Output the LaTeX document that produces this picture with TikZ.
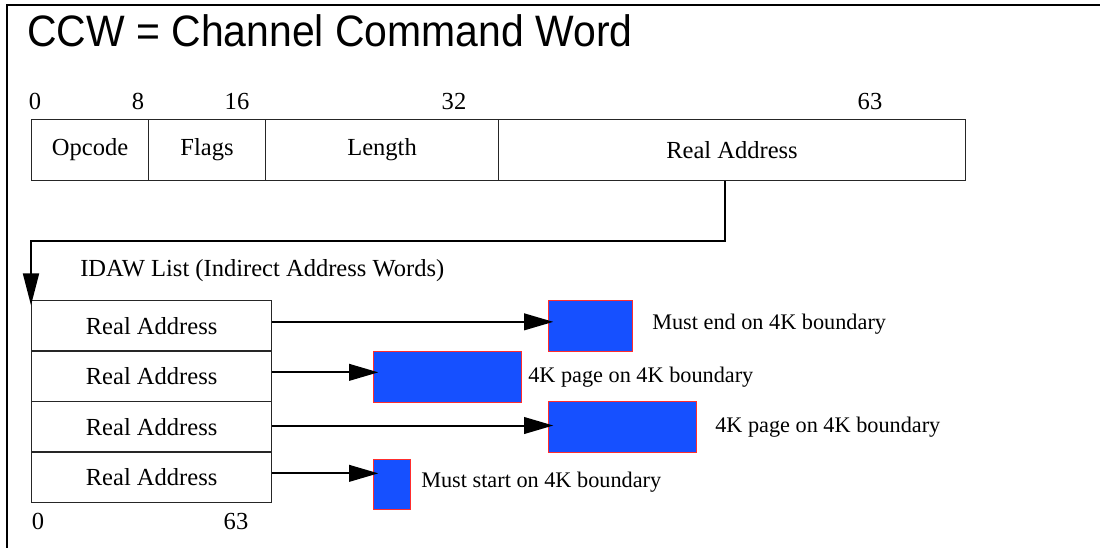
\documentclass[tikz,border=0pt]{standalone}
\usepackage{fontspec}
\setmainfont{Liberation Serif}
\newfontfamily\titlefont[FakeStretch=0.93]{Liberation Sans}
\usetikzlibrary{arrows.meta}
\definecolor{pageblue}{RGB}{22,80,255}
\definecolor{pagered}{RGB}{255,45,45}
\begin{document}
\begin{tikzpicture}[x=0.75pt,y=-0.75pt,
  txt/.style={inner sep=0pt, font=\fontsize{18.4pt}{22pt}\selectfont},
  lbl/.style={inner sep=0pt, anchor=west, font=\fontsize{16.7pt}{20pt}\selectfont},
  field/.style={draw=black!85, line width=0.8pt, anchor=north west, inner sep=0pt,
    minimum height=61*0.75pt, font=\fontsize{18.4pt}{22pt}\selectfont},
  idaw/.style={draw=black!85, line width=0.9pt, anchor=north west, inner sep=0pt,
    minimum width=240*0.75pt, minimum height=50.5*0.75pt, font=\fontsize{18.4pt}{22pt}\selectfont},
  page/.style={draw=pagered, fill=pageblue, line width=0.6pt, anchor=north west, inner sep=0pt},
  arr/.style={line width=1.5pt, -{Triangle[length=22pt,width=12.5pt]}, shorten >=-4pt},
  frame/.style={line width=1.2pt}
]
\useasboundingbox (0,0) rectangle (1100,548);
% outer frame
\draw[frame] (7,548) -- (7,5) -- (1100,5);
% title
\node[anchor=base west, inner sep=0pt, font=\titlefont\fontsize{33pt}{38pt}\selectfont] (title) at (27,47) {CCW = Channel Command Word};
% bit numbers
\node[txt, anchor=base] (n0) at (35,110) {0};
\node[txt, anchor=base] (n8) at (138,110) {8};
\node[txt, anchor=base] (n16) at (237,110) {16};
\node[txt, anchor=base] (n32) at (454,110) {32};
\node[txt, anchor=base] (n63) at (870,110) {63};
% CCW fields
\node[field, minimum width=117*0.75pt] (op) at (31,119) {Opcode};
\node[field, minimum width=117*0.75pt] (fl) at (148,119) {Flags};
\node[field, minimum width=233*0.75pt] (len) at (265,119) {Length};
\node[field, minimum width=467*0.75pt] (ra) at (498,119) {Real Address};
% IDAW list
\node[txt, anchor=base west] (idawlbl) at (80,277) {IDAW List (Indirect Address Words)};
\node[idaw] (i1) at (31,300) {Real Address};
\node[idaw] (i2) at (31,350.5) {Real Address};
\node[idaw] (i3) at (31,401) {Real Address};
\node[idaw] (i4) at (31,451.5) {Real Address};
\node[txt, anchor=base] (b0) at (38,530) {0};
\node[txt, anchor=base] (b63) at (236,530) {63};
% pages
\node[page, minimum width=84*0.75pt, minimum height=51*0.75pt] (p1) at (548,300) {};
\node[page, minimum width=148*0.75pt, minimum height=51*0.75pt] (p2) at (373,351) {};
\node[page, minimum width=148*0.75pt, minimum height=51*0.75pt] (p3) at (548,401) {};
\node[page, minimum width=37*0.75pt, minimum height=50*0.75pt] (p4) at (373,459) {};
\node[lbl] (l1) at (652,324) {Must end on 4K boundary};
\node[lbl] (l2) at (528,377) {4K page on 4K boundary};
\node[lbl] (l3) at (715,427) {4K page on 4K boundary};
\node[lbl] (l4) at (421,482) {Must start on 4K boundary};
% connectors
\draw[arr, -{Triangle[length=24pt,width=12pt]}] ([xshift=-5.6pt]ra.south) -- ++(0,60) -| (i1.north west);
\draw[arr] ([yshift=3pt]i1.east) -- ([yshift=3pt]i1.east -| p1.west);
\draw[arr] ([yshift=3pt]i2.east) -- ([yshift=3pt]i2.east -| p2.west);
\draw[arr] ([yshift=1pt]i3.east) -- ([yshift=1pt]i3.east -| p3.west);
\draw[arr] ([yshift=3pt]i4.east) -- ([yshift=3pt]i4.east -| p4.west);
\end{tikzpicture}
\end{document}
